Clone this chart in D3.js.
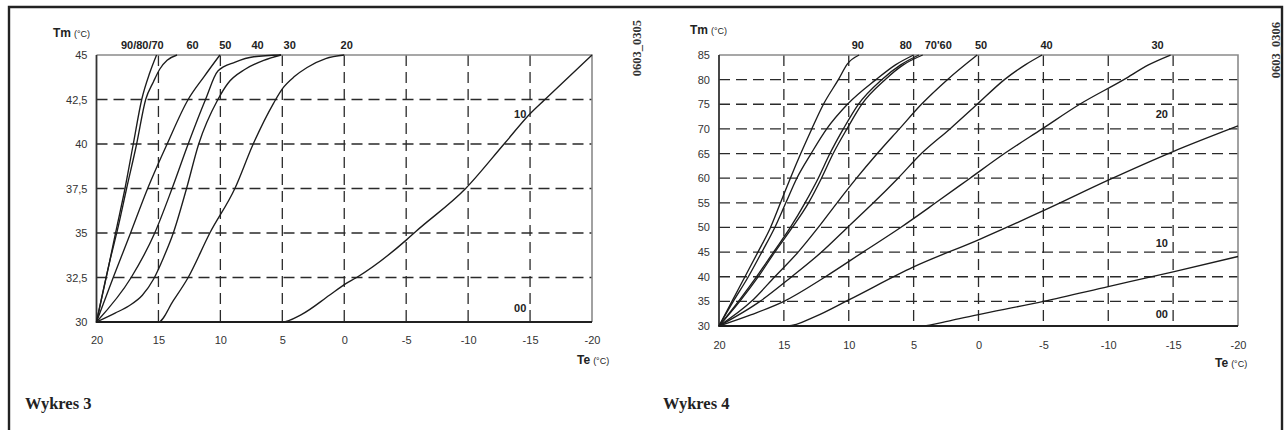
<!DOCTYPE html>
<html><head><meta charset="utf-8">
<script src="https://cdn.jsdelivr.net/npm/d3@7"></script>
<style>body{margin:0;background:#fff}svg{display:block}</style>
</head><body>
<svg id="c" width="1285" height="430"></svg>
<script>
// ---------- Wykres 3 : Tm 30..45 °C ----------
const w3TeTicks = [20, 15, 10, 5, 0, -5, -10, -15, -20];
const w3TmTicks = [30, 32.5, 35, 37.5, 40, 42.5, 45];
const w3TmTickLabels = ["30", "32,5", "35", "37,5", "40", "42,5", "45"];
// each curve: [Te, Tm] pairs
const w3Curve90 = [[20,30],[19,33.2],[18.4,35.2],[17.7,37.5],[17.03,40],[16.35,42.5],[15.7,44],[15.15,45]];
const w3Curve60 = [[20,30],[18.9,33.5],[18.3,35.2],[17.57,37.5],[16.76,40],[16.03,42.5],[15.4,43.5],[14.9,44.2],[14.3,44.7],[13.5,45]];
const w3Curve50 = [[20,30],[18.65,32.5],[17.25,35],[15.87,37.5],[14.3,40],[12.6,42.5],[11.3,43.8],[10.04,45]];
const w3Curve40 = [[20,30],[17.2,32.5],[15.3,35],[13.9,37.5],[12.6,40],[11.2,42.5],[10.2,44.1],[8.8,44.6],[7.3,44.9],[5.1,45]];
const w3Curve30 = [[20,30],[18.5,30.5],[17.4,30.9],[16.3,31.5],[15.4,32.4],[14.6,33.6],[13.8,35],[12.73,37.5],[11.75,40],[10.2,42.5],[9.4,43.4],[8,44.2],[6.5,44.7],[5.1,45]];
const w3Curve20 = [[20,30],[15,30],[13.8,31.2],[12.6,32.5],[10.85,35],[8.83,37.5],[7.35,40],[5.7,42.3],[5,43.1],[4,43.8],[3,44.3],[1.5,44.8],[0,45]];
const w3Curve10 = [[20,30],[5,30],[3.5,30.4],[1.2,31.5],[0,32.1],[-1,32.5],[-5,34.6],[-5.8,35.1],[-9.8,37.5],[-12.9,40],[-15,41.7],[-16.2,42.5],[-20,45]];
const w3Curve00 = [[20,30],[-20,30]];
const w3CurveNames = ["90/80/70", "60", "50", "40", "30", "20", "10", "00"];

// ---------- Wykres 4 : Tm 30..85 °C ----------
const w4TeTicks = [20, 15, 10, 5, 0, -5, -10, -15, -20];
const w4TmTicks = [30, 35, 40, 45, 50, 55, 60, 65, 70, 75, 80, 85];
const w4TmTickLabels = ["30", "35", "40", "45", "50", "55", "60", "65", "70", "75", "80", "85"];
const w4Curve90 = [[20,30],[19,35],[18,40],[17,45],[16.03,50],[15.26,55],[14.5,60],[13.7,65],[12.85,70],[11.95,75],[10.8,80],[10.1,83.2],[9.2,85]];
const w4Curve80 = [[20,30],[18.9,35],[17.74,40],[16.7,45],[15.7,50],[14.85,55],[14,60],[12.9,65],[11.7,70],[10.1,75],[7.9,80],[6.4,83],[5,85]];
const w4Curve70 = [[20,30],[18.5,35],[17.1,40],[15.8,45],[14.5,50],[13.37,55],[12.35,60],[11.45,65],[10.42,70],[9.26,75],[7.46,80],[6,83],[4.6,85]];
const w4Curve60 = [[20,30],[18.4,35],[16.97,40],[15.7,45],[14.35,50],[13.1,55],[12.1,60],[11.2,65],[10.14,70],[9,75],[7.2,80],[5.8,83],[4.3,85]];
const w4Curve50 = [[20,30],[17.5,35],[15.7,40],[13.9,45],[12.35,50],[10.9,55],[9.4,60],[7.8,65],[6.1,70],[4.4,75],[2.4,80],[0.1,85]];
const w4Curve40 = [[20,30],[16.84,35],[14.4,40],[12.1,45],[10.1,50],[8.1,55],[6.2,60],[4.4,65],[2.2,70],[0.1,75],[-2,80],[-3.6,83],[-4.9,85]];
const w4Curve30 = [[20,30],[17.5,32.3],[15,35],[11.8,40],[8.9,45],[6,50],[3.3,55],[0.65,60],[-2,65],[-4.9,70],[-7.8,75],[-11.2,80],[-13.1,83],[-14.8,85]];
const w4Curve20 = [[20,30],[14.7,30],[12.6,31.9],[10,35.3],[5,42],[0,47.5],[-5,53.4],[-10,59.6],[-15,65.4],[-20,70.6]];
const w4Curve10 = [[20,30],[4.5,30],[2,31.2],[0,32.3],[-5,35],[-10,38],[-15,41],[-20,44.1]];
const w4Curve00 = [[20,30],[-20,30]];
const w4CurveNames = ["90", "80", "70'60", "50", "40", "30", "20", "10", "00"];

const svg = d3.select("#c");
const SANS = "'Liberation Sans', Arial, sans-serif";
const SERIF = "'Liberation Serif', 'DejaVu Serif', serif";

// outer frame of the sheet
svg.append("path").attr("d", "M9,434V7H1282V434")
  .attr("fill", "none").attr("stroke", "#222").attr("stroke-width", 2.4);

function drawPanel(p) {
  const x = d3.scaleLinear().domain([20, -20]).range(p.xRange);
  const y = d3.scaleLinear().domain(p.yDomain).range(p.yRange);
  const g = svg.append("g");
  const [x0, x1] = p.xRange, [y0, y1] = p.yRange;

  // dashed grid
  const grid = g.append("g").attr("stroke", "#2a2a2a").attr("stroke-width", 1.3)
    .attr("stroke-dasharray", "11,6").attr("fill", "none");
  p.teTicks.filter(t => t < 20 && t > -20).forEach(t => {
    grid.append("line").attr("x1", x(t)).attr("x2", x(t)).attr("y1", y1).attr("y2", y0);
  });
  p.tmTicks.filter(t => t > p.yDomain[0] && t < p.yDomain[1]).forEach(t => {
    grid.append("line").attr("x1", x0).attr("x2", x1).attr("y1", y(t)).attr("y2", y(t));
  });

  // plot frame: light top/right, dark left/bottom
  g.append("path").attr("d", `M${x0},${y1}H${x1}V${y0}`)
    .attr("fill", "none").attr("stroke", "#8a8a8a").attr("stroke-width", 1.6);
  g.append("path").attr("d", `M${x0},${y1}V${y0}H${x1}`)
    .attr("fill", "none").attr("stroke", "#333").attr("stroke-width", 1.8);

  // curves
  const line = d3.line().x(d => x(d[0])).y(d => y(d[1])).curve(d3.curveMonotoneX);
  g.append("g").selectAll("path").data(p.curves).join("path")
    .attr("d", line).attr("fill", "none").attr("stroke", "#1c1c1c").attr("stroke-width", 1.35);

  // axes (labels only)
  const ax = g.append("g").attr("transform", `translate(0,${y0})`)
    .call(d3.axisBottom(x).tickValues(p.teTicks).tickSize(0).tickPadding(p.xPad).tickFormat(d => String(d)));
  const ay = g.append("g").attr("transform", `translate(${x0},0)`)
    .call(d3.axisLeft(y).tickValues(p.tmTicks).tickSize(0).tickPadding(9)
      .tickFormat((d, i) => p.tmLabels[i]));
  [ax, ay].forEach(a => {
    a.select(".domain").remove();
    a.selectAll("text").attr("font-family", SANS).attr("font-size", 11).attr("fill", "#333");
  });

  // axis titles
  const tm = g.append("text").attr("x", p.tmTitle[0]).attr("y", p.tmTitle[1])
    .attr("font-family", SANS).attr("fill", "#222");
  tm.append("tspan").attr("font-size", 12).attr("font-weight", "bold").text("Tm");
  tm.append("tspan").attr("font-size", 9).attr("dx", 3).text("(°C)");
  const te = g.append("text").attr("x", p.teTitle[0]).attr("y", p.teTitle[1])
    .attr("font-family", SANS).attr("fill", "#222");
  te.append("tspan").attr("font-size", 12).attr("font-weight", "bold").text("Te");
  te.append("tspan").attr("font-size", 9).attr("dx", 3).text("(°C)");

  // curve labels
  g.append("g").selectAll("text").data(p.labels).join("text")
    .attr("x", d => x(d.te)).attr("y", d => d.top ? y1 - 6 : y(d.tm))
    .attr("text-anchor", d => d.anchor || "middle")
    .attr("font-family", SANS).attr("font-size", 11).attr("font-weight", "bold").attr("fill", "#222")
    .text(d => d.name);

  // drawing code, rotated
  g.append("text").attr("transform", `translate(${p.code[0]},${p.code[1]}) rotate(-90)`)
    .attr("text-anchor", "middle").attr("dominant-baseline", "central")
    .attr("font-family", SERIF).attr("font-weight", "bold").attr("font-size", 12.5).attr("fill", "#333")
    .text(p.codeText);

  // caption
  g.append("text").attr("x", p.caption[0]).attr("y", p.caption[1])
    .attr("font-family", SERIF).attr("font-weight", "bold").attr("font-size", 16.5).attr("fill", "#222")
    .text(p.captionText);
}

drawPanel({
  xRange: [96.5, 592], yRange: [322, 55], yDomain: [30, 45], xPad: 14,
  teTicks: w3TeTicks, tmTicks: w3TmTicks, tmLabels: w3TmTickLabels,
  curves: [w3Curve90, w3Curve60, w3Curve50, w3Curve40, w3Curve30, w3Curve20, w3Curve10, w3Curve00],
  labels: [
    { name: w3CurveNames[0], te: 16.3, top: true },
    { name: w3CurveNames[1], te: 12.25, top: true },
    { name: w3CurveNames[2], te: 9.6, top: true },
    { name: w3CurveNames[3], te: 7.0, top: true },
    { name: w3CurveNames[4], te: 4.4, top: true },
    { name: w3CurveNames[5], te: -0.2, top: true },
    { name: w3CurveNames[6], te: -14.7, tm: 41.45, anchor: "end" },
    { name: w3CurveNames[7], te: -14.7, tm: 30.55, anchor: "end" }
  ],
  tmTitle: [53, 37], teTitle: [577, 364],
  code: [637, 48], codeText: "0603_0305",
  caption: [25, 409], captionText: "Wykres 3"
});

drawPanel({
  xRange: [719, 1238], yRange: [326, 55], yDomain: [30, 85], xPad: 15,
  teTicks: w4TeTicks, tmTicks: w4TmTicks, tmLabels: w4TmTickLabels,
  curves: [w4Curve90, w4Curve80, w4Curve70, w4Curve60, w4Curve50, w4Curve40, w4Curve30, w4Curve20, w4Curve10, w4Curve00],
  labels: [
    { name: w4CurveNames[0], te: 9.3, top: true },
    { name: w4CurveNames[1], te: 5.6, top: true },
    { name: w4CurveNames[2], te: 3.1, top: true },
    { name: w4CurveNames[3], te: -0.2, top: true },
    { name: w4CurveNames[4], te: -5.25, top: true },
    { name: w4CurveNames[5], te: -13.8, top: true },
    { name: w4CurveNames[6], te: -14.6, tm: 72.2, anchor: "end" },
    { name: w4CurveNames[7], te: -14.6, tm: 46, anchor: "end" },
    { name: w4CurveNames[8], te: -14.6, tm: 31.6, anchor: "end" }
  ],
  tmTitle: [690, 34], teTitle: [1215, 367],
  code: [1276, 50], codeText: "0603_0306",
  caption: [663, 409], captionText: "Wykres 4"
});
</script></body></html>
